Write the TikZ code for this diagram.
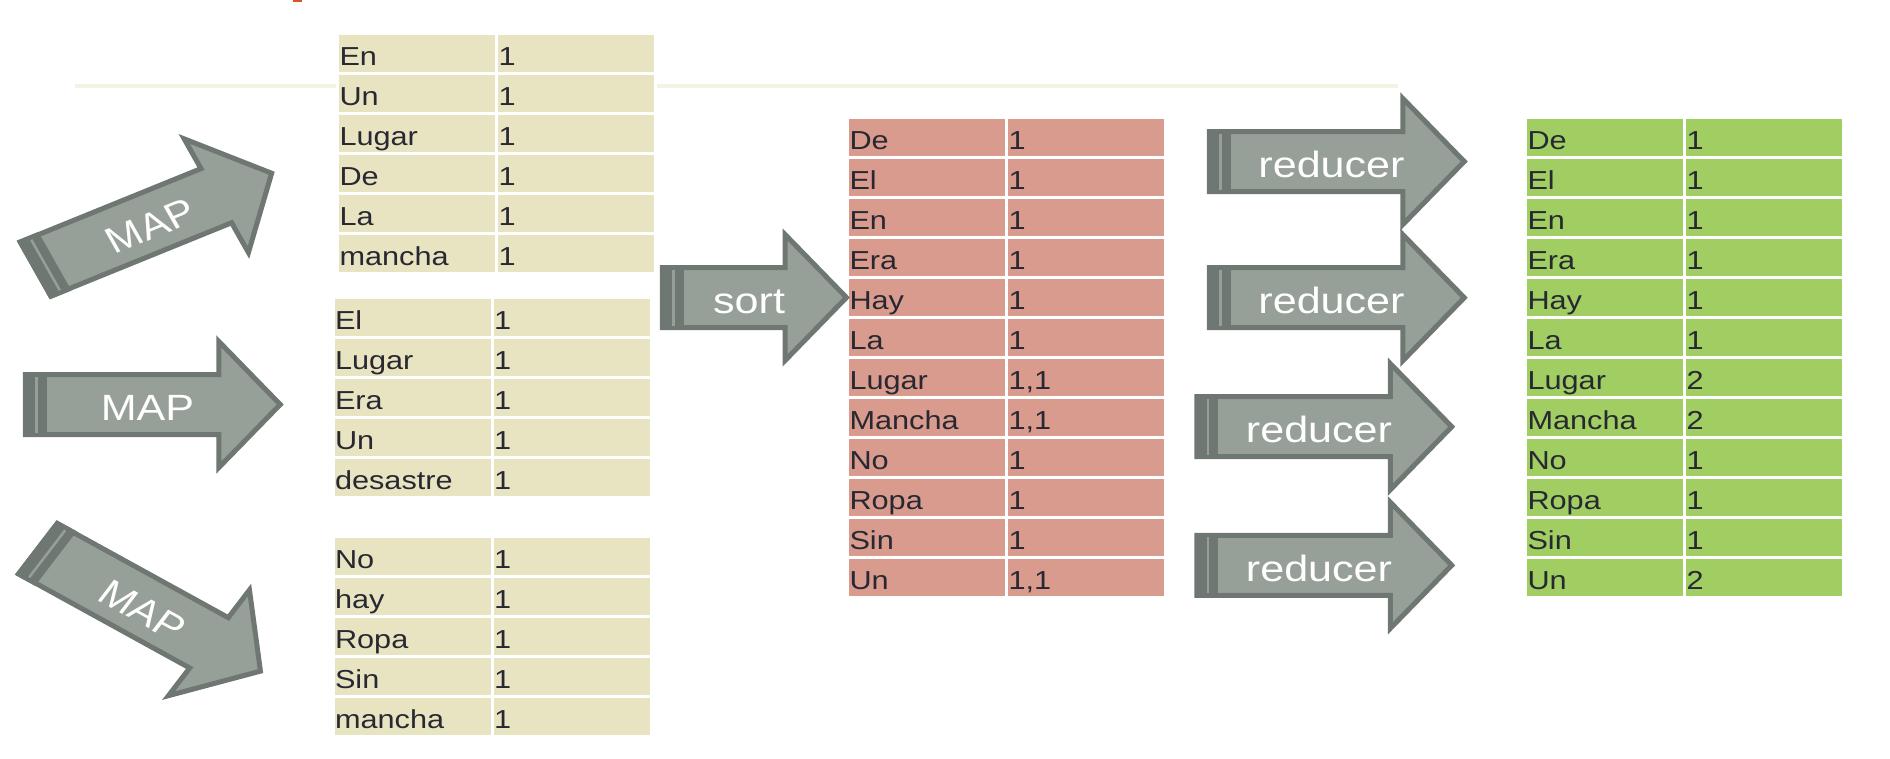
\documentclass[tikz,border=0pt]{standalone}
\usepackage{fontspec}
\usepackage{tikz}
\newfontfamily\cellfont{Liberation Sans}[FakeStretch=1.18]
\newfontfamily\arrowfont{Liberation Sans}
\definecolor{beige}{HTML}{E8E4C1}
\definecolor{salmon}{HTML}{D89B8E}
\definecolor{leaf}{HTML}{A0CE62}
\definecolor{arrowfill}{HTML}{97A098}
\definecolor{arrowedge}{HTML}{6E7771}
\definecolor{inktext}{HTML}{282832}
\definecolor{rulecol}{HTML}{F3F2E4}
\definecolor{marker}{HTML}{D9532E}

\begin{document}
\begin{tikzpicture}[x=1pt, y=-1pt,
	cell/.style={rectangle, draw=white, line width=3pt, inner xsep=2pt, inner ysep=0pt, outer sep=0pt, text width=155pt, align=left, text height=31.5pt, text depth=8.5pt, anchor=north west, text=inktext, font=\cellfont\fontsize{26}{26}\selectfont},
	arrowbody/.style={fill=arrowfill, draw=arrowedge, line width=5pt, line join=miter},
	arrowback/.style={fill=arrowedge},
	arrowline/.style={draw=arrowfill, line width=2.5pt},
	arrowlabel/.style={text=white, inner sep=0pt, anchor=base, font=\arrowfont\fontsize{36.5}{36.5}\selectfont}]
			\useasboundingbox (0,0) rectangle (1890,758);
			
			% faint rule and top mark
			\draw[rulecol, line width=4pt] (75,86) -- (1398,86);
			\fill[marker] (293,0) rectangle (302,2);
			
			% map outputs
			\foreach \w/\n [count=\r] in {En/1, Un/1, Lugar/1, De/1, La/1, mancha/1}{
				\node[cell, fill=beige] (aw\r) at (337.5, 33.5+40*\r-40) {\w};
				\node[cell, fill=beige] (an\r) at (496.5, 33.5+40*\r-40) {\n};
			}
			\foreach \w/\n [count=\r] in {El/1, Lugar/1, Era/1, Un/1, desastre/1}{
				\node[cell, fill=beige] (bw\r) at (333, 297.5+40*\r-40) {\w};
				\node[cell, fill=beige] (bn\r) at (492, 297.5+40*\r-40) {\n};
			}
			\foreach \w/\n [count=\r] in {No/1, hay/1, Ropa/1, Sin/1, mancha/1}{
				\node[cell, fill=beige] (cw\r) at (333, 536.5+40*\r-40) {\w};
				\node[cell, fill=beige] (cn\r) at (492, 536.5+40*\r-40) {\n};
			}
			
			% sorted
			\foreach \w/\n [count=\r] in {De/1, El/1, En/1, Era/1, Hay/1, La/1, Lugar/{1,1}, Mancha/{1,1}, No/1, Ropa/1, Sin/1, Un/{1,1}}{
				\node[cell, fill=salmon] (sw\r) at (847.5, 117.5+40*\r-40) {\w};
				\node[cell, fill=salmon] (sn\r) at (1006.5, 117.5+40*\r-40) {\n};
			}
			
			% reduced
			\foreach \w/\n [count=\r] in {De/1, El/1, En/1, Era/1, Hay/1, La/1, Lugar/2, Mancha/2, No/1, Ropa/1, Sin/1, Un/2}{
				\node[cell, fill=leaf] (rw\r) at (1525.5, 117.5+40*\r-40) {\w};
				\node[cell, fill=leaf] (rn\r) at (1684.5, 117.5+40*\r-40) {\n};
			}
			
			% block arrows
			\foreach \nm/\tx/\ty/\ang/\len/\lab in {map1/33.3/270/25.6/227/MAP, map2/23/404.5/0/221/MAP, map3/35.8/547.5/-33/230/MAP, sort/660/297.5/0/161/sort, red1/1207/161.5/0/221/reducer, red2/1207/297.7/0/221/reducer, red3/1194.5/426.7/0/221/reducer, red4/1194.5/565.3/0/221/reducer}{
				\begin{scope}[shift={(\tx,\ty)}, xscale=1.18, rotate=\ang, transform shape]
					\draw[arrowbody] (2.1,-30) -- (\len-55,-30) -- (\len-55,-63) -- (\len-3,0) -- (\len-55,63) -- (\len-55,30) -- (2.1,30) -- cycle;
					\fill[arrowback] (0,-32.5) rectangle (20.3,32.5);
					\draw[arrowline] (11.5,-28) -- (11.5,28);
					\node[arrowlabel] (\nm) at (\len/2-5,16) {\lab};
				\end{scope}
			}
			\end{tikzpicture}
\end{document}
